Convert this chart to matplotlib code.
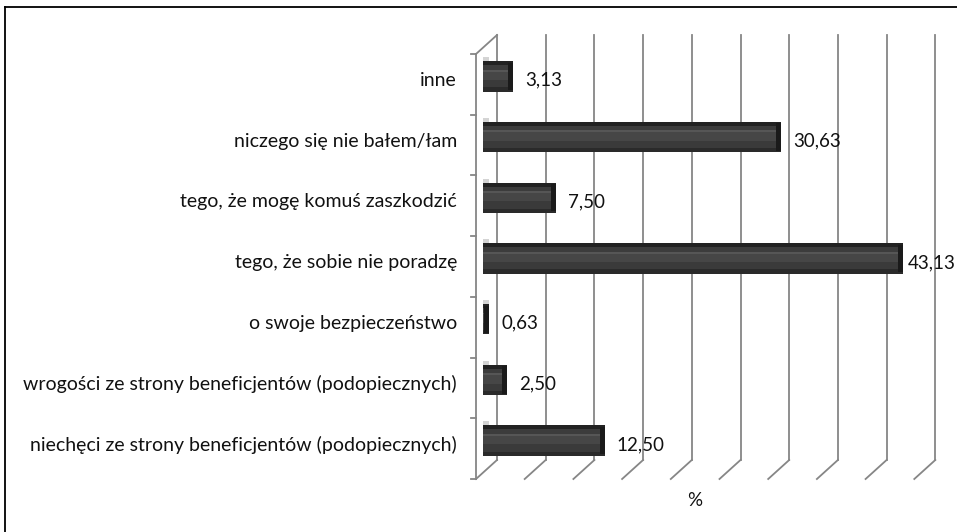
import matplotlib
matplotlib.use("Agg")
import matplotlib.pyplot as plt
from matplotlib.patches import Rectangle
from matplotlib.transforms import ScaledTranslation
from matplotlib.lines import Line2D

categories = [
    "niechęci ze strony beneficjentów (podopiecznych)",
    "wrogości ze strony beneficjentów (podopiecznych)",
    "o swoje bezpieczeństwo",
    "tego, że sobie nie poradzę",
    "tego, że mogę komuś zaszkodzić",
    "niczego się nie bałem/łam",
    "inne",
]
values = [12.50, 2.50, 0.63, 43.13, 7.50, 30.63, 3.13]
x_ticks = [0, 5, 10, 15, 20, 25, 30, 35, 40, 45]
axis_title = "%"

W, H, DPI = 957, 532, 100
fig = plt.figure(figsize=(W / DPI, H / DPI), dpi=DPI)
plt.rcParams['font.family'] = ['Lato', 'DejaVu Sans']

# back wall in pixels (top-origin)
bx0, bx1 = 497, 935.3
by_top, by_bot = 35, 460
ax = fig.add_axes([bx0 / W, 1 - by_bot / H, (bx1 - bx0) / W, (by_bot - by_top) / H])
ax.set_xlim(0, 45)
ax.set_ylim(-0.5, len(categories) - 0.5)
ax.axis("off")

DX, DY = -21, -19  # front-plane offset in pixels (y up)
front = ax.transData + ScaledTranslation(DX / DPI, DY / DPI, fig.dpi_scale_trans)
barplane = ax.transData + ScaledTranslation(-14 / DPI, -11 / DPI, fig.dpi_scale_trans)

grid_c = "#868686"
ymin, ymax = -0.5, len(categories) - 0.5
for t in x_ticks:
    ax.add_line(Line2D([t, t], [ymin, ymax], color=grid_c, lw=1.3, clip_on=False))
    p0 = ax.transData.transform((t, ymin))
    p1 = front.transform((t, ymin))
    fig.add_artist(Line2D([p0[0] / W, p1[0] / W], [p0[1] / H, p1[1] / H],
                          transform=fig.transFigure, color=grid_c, lw=1.3))
p0 = ax.transData.transform((0, ymax))
p1 = front.transform((0, ymax))
fig.add_artist(Line2D([p0[0] / W, p1[0] / W], [p0[1] / H, p1[1] / H],
                      transform=fig.transFigure, color=grid_c, lw=1.3))
ax.add_line(Line2D([0, 0], [ymin, ymax], color=grid_c, lw=1.3, transform=front, clip_on=False))
tick_tr = front + ScaledTranslation(-5 / DPI, 0, fig.dpi_scale_trans)
for i in range(len(categories) + 1):
    yb = ymin + i
    a = front.transform((0, yb))
    b = tick_tr.transform((0, yb))
    fig.add_artist(Line2D([a[0] / W, b[0] / W], [a[1] / H, b[1] / H],
                          transform=fig.transFigure, color=grid_c, lw=1.3))

# bars
bh = 0.5
px_per_unit = (bx1 - bx0) / 45
shadow_tr = barplane + ScaledTranslation(0, 4 / DPI, fig.dpi_scale_trans)
layers = [
    (0.0, 0.13, "#222222"),
    (0.13, 0.28, "#3c3c3c"),
    (0.28, 0.34, "#565656"),
    (0.34, 0.62, "#464646"),
    (0.62, 0.86, "#3a3a3a"),
    (0.86, 1.0, "#2a2a2a"),
]
for i, v in enumerate(values):
    y0 = i - bh / 2
    sw = 6 / px_per_unit
    ax.add_patch(Rectangle((0, y0), sw, bh, color="#d4d4d4", lw=0,
                           transform=shadow_tr, clip_on=False, zorder=2))
    for lo, hi, c in layers:
        ax.add_patch(Rectangle((0, y0 + bh * (1 - hi)), v, bh * (hi - lo), color=c, lw=0,
                               transform=barplane, clip_on=False, zorder=3))
    cap = min(5 / px_per_unit, v)
    ax.add_patch(Rectangle((v - cap, y0 + bh * 0.05), cap, bh * 0.9, color="#1a1a1a", lw=0,
                           transform=barplane, clip_on=False, zorder=4))
    lab = f"{v:.2f}".replace(".", ",")
    end_px = barplane.transform((v, i))
    xpix = end_px[0] + 12
    txt = fig.text(xpix / W, (end_px[1] - 4) / H, lab, fontsize=13.5, ha="left", va="center",
                   color="#111111")
    fig.canvas.draw()
    bb = txt.get_window_extent()
    if bb.x1 > W - 1:
        txt.set_x((W - 1 - bb.width) / W)

for i, c in enumerate(categories):
    p = front.transform((0, i))
    fig.text((p[0] - 19) / W, (p[1] + 4) / H, c, fontsize=14, ha="right", va="center",
             color="#111111")

pc = front.transform((22.5, ymin))
fig.text(pc[0] / W, (pc[1] - 22) / H, axis_title, fontsize=13.5, ha="center", va="center",
         color="#111111")

fig.add_artist(Line2D([5 / W, 5 / W], [0, 1 - 7 / H], transform=fig.transFigure, color="black", lw=1.3))
fig.add_artist(Line2D([5 / W, 1], [1 - 7 / H, 1 - 7 / H], transform=fig.transFigure, color="black", lw=1.3))

fig.savefig("out.png", dpi=DPI, facecolor="white")
